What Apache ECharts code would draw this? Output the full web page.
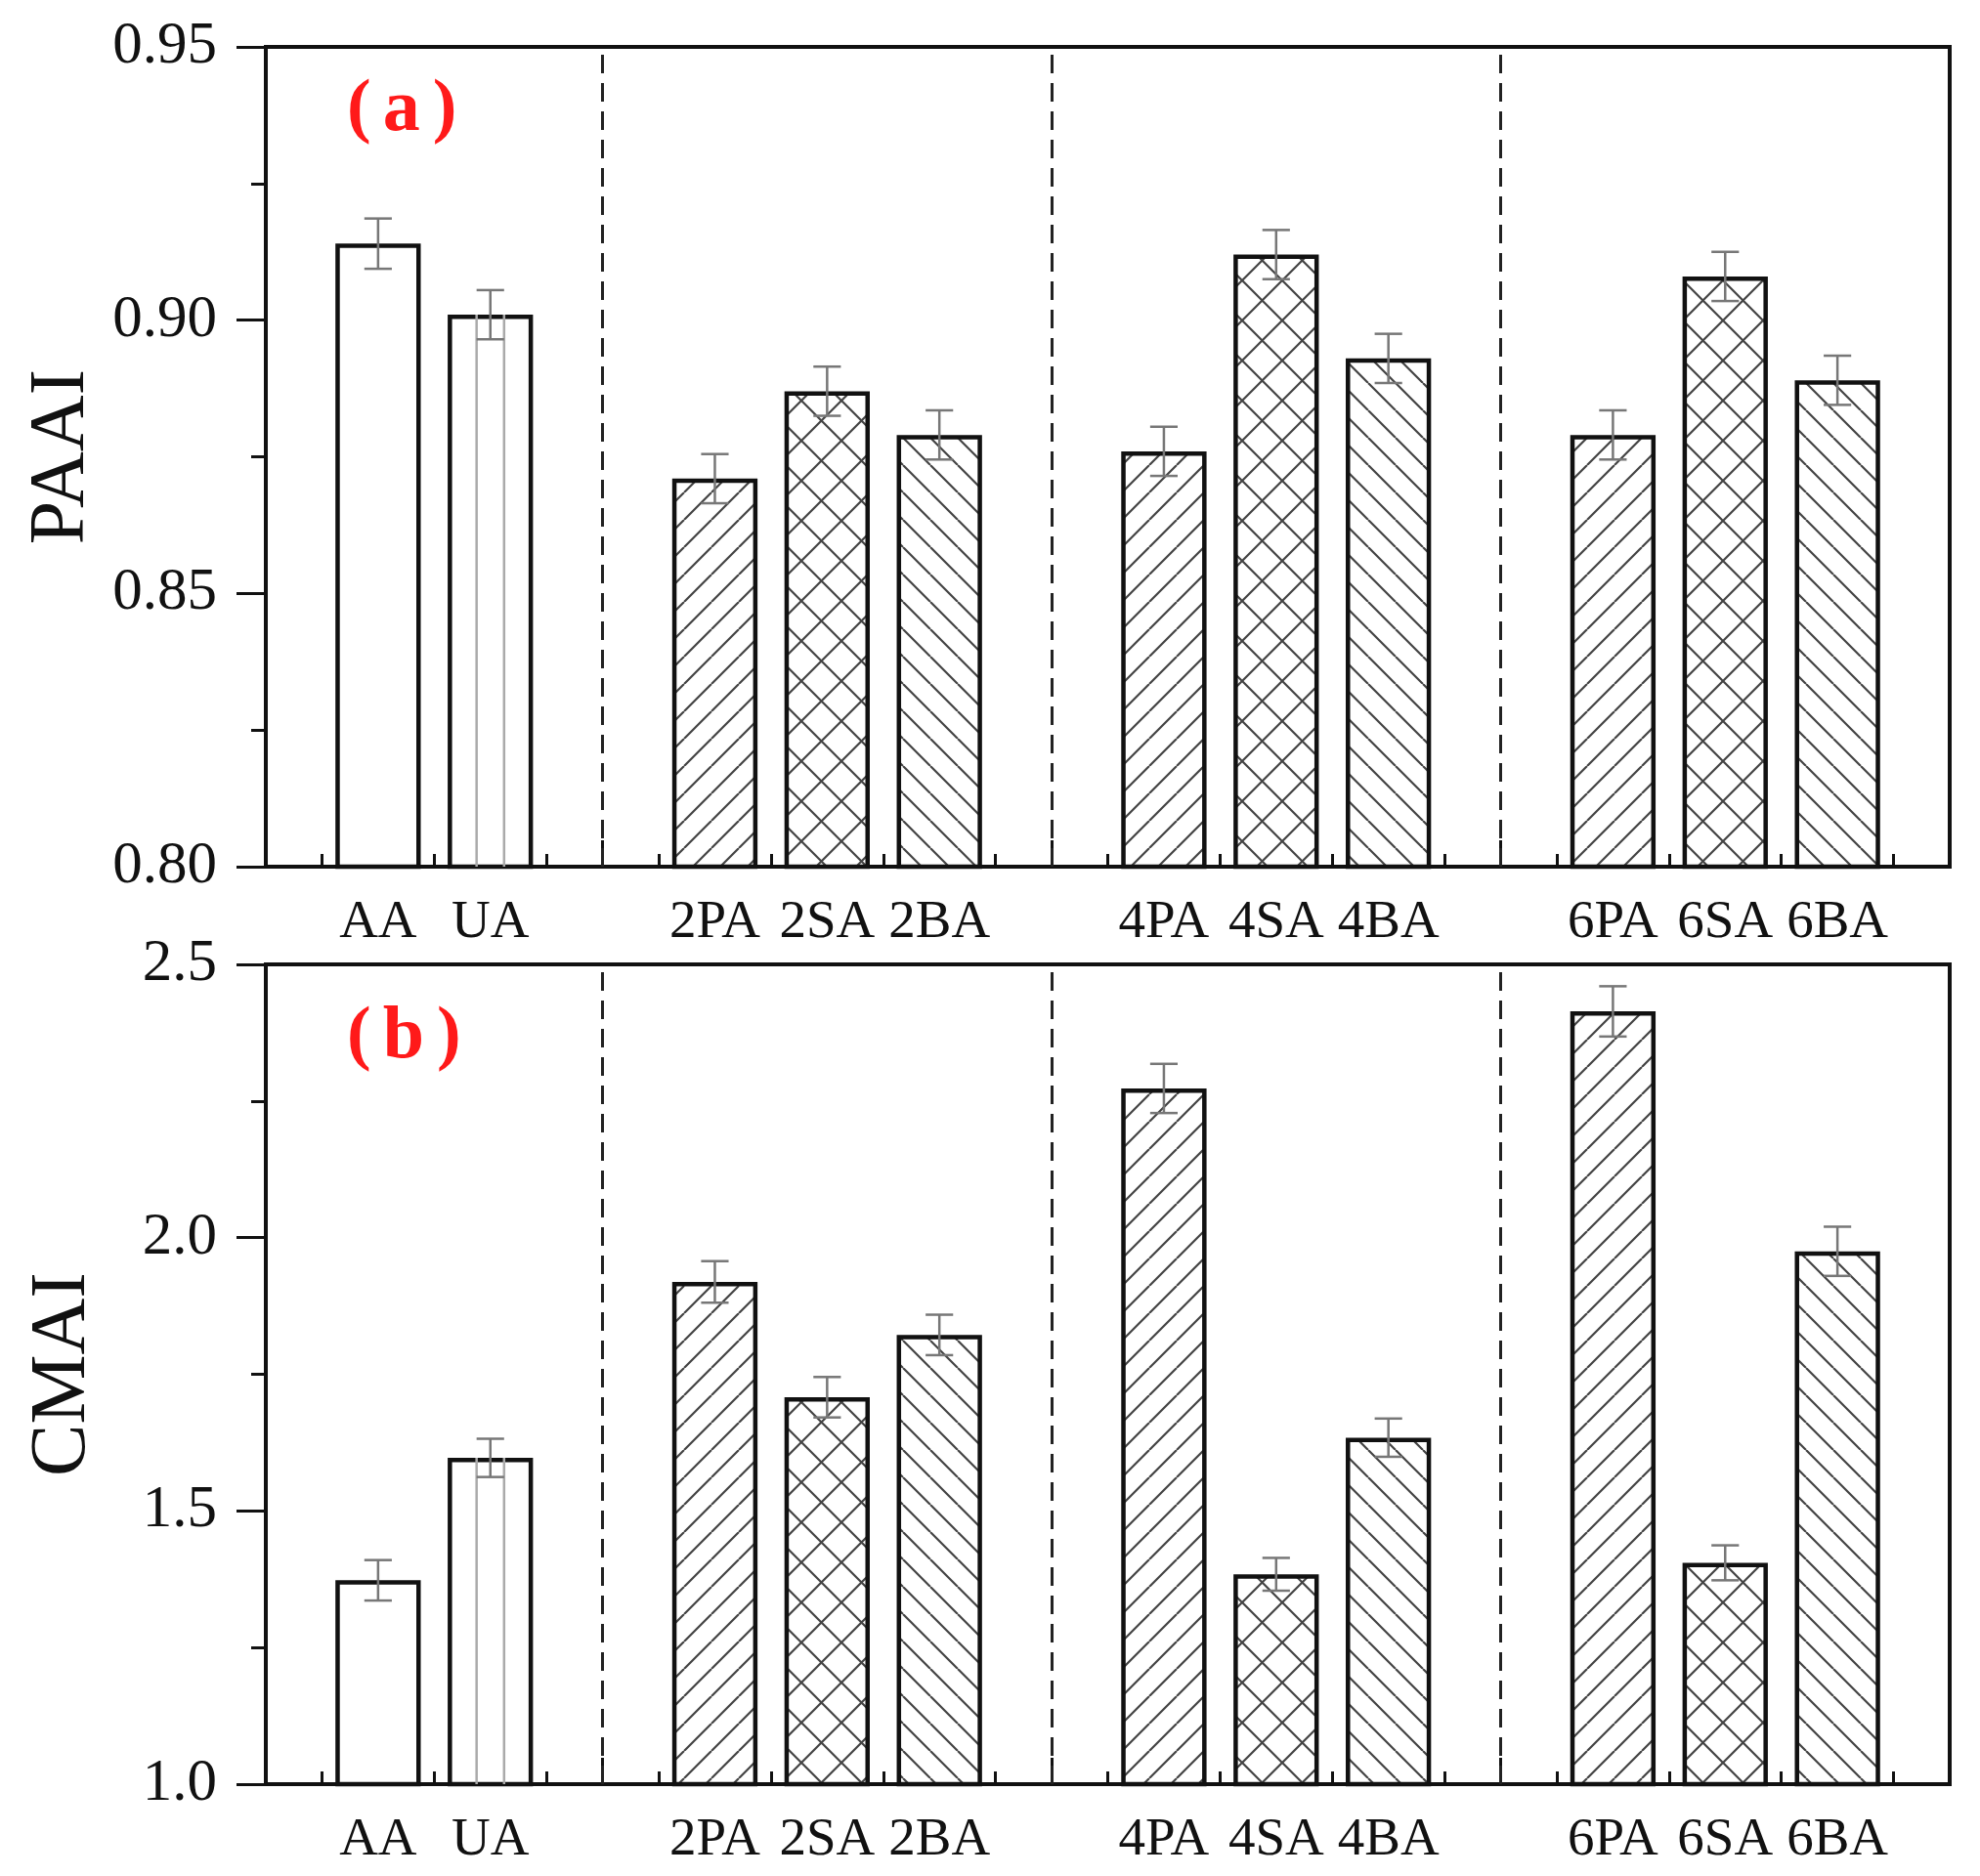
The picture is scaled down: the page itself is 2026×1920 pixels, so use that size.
<!DOCTYPE html>
<html>
<head>
<meta charset="utf-8">
<script src="https://cdn.jsdelivr.net/npm/echarts@6/dist/echarts.min.js"></script>
<style>
  html, body { margin: 0; padding: 0; background: #fff; }
  #chart { width: 2026px; height: 1920px; }
</style>
</head>
<body>
<div id="chart"></div>
<script>
// 各处理的类别与横轴位置（3、7、11 为分隔虚线处）
const categories = ['AA', 'UA', '2PA', '2SA', '2BA', '4PA', '4SA', '4BA', '6PA', '6SA', '6BA'];
const positions = [1, 2, 4, 5, 6, 8, 9, 10, 12, 13, 14];
const dividers = [3, 7, 11];
const fills = ['plain', 'vline', 'slash', 'cross', 'back', 'slash', 'cross', 'back', 'slash', 'cross', 'back'];

// (a) PAAI
const paai = [0.914, 0.901, 0.871, 0.887, 0.879, 0.876, 0.912, 0.893, 0.879, 0.908, 0.889];
const paaiErr = [0.0046, 0.0045, 0.0045, 0.0045, 0.0045, 0.0045, 0.0045, 0.0045, 0.0045, 0.0045, 0.0045];
// (b) CMAI
const cmai = [1.373, 1.597, 1.919, 1.708, 1.822, 2.273, 1.384, 1.634, 2.414, 1.405, 1.975];
const cmaiErr = [0.037, 0.035, 0.038, 0.037, 0.037, 0.045, 0.030, 0.035, 0.046, 0.032, 0.045];

const paaiTicks = { min: 0.80, max: 0.95, interval: 0.05, digits: 2 };
const cmaiTicks = { min: 1.0, max: 2.5, interval: 0.5, digits: 1 };

const serif = '"Liberation Serif", "Times New Roman", serif';

// 斜线/交叉线填充
function makePattern(kind) {
    if (kind === 'plain' || kind === 'vline') return '#fff';
    const p = kind === 'cross' ? 41 : 28;
    const c = document.createElement('canvas');
    c.width = p; c.height = p;
    const ctx = c.getContext('2d');
    ctx.fillStyle = '#fff';
    ctx.fillRect(0, 0, p, p);
    ctx.strokeStyle = '#444';
    ctx.lineWidth = 2.2;
    ctx.beginPath();
    for (let k = -1; k <= 1; k++) {
        if (kind === 'slash' || kind === 'cross') {
            ctx.moveTo(k * p, p);
            ctx.lineTo(k * p + p, 0);
        }
        if (kind === 'back' || kind === 'cross') {
            ctx.moveTo(k * p, 0);
            ctx.lineTo(k * p + p, p);
        }
    }
    ctx.stroke();
    return { image: c, repeat: 'repeat' };
}

function labelFor(v) {
    const i = positions.indexOf(Math.round(v));
    return i >= 0 && Math.abs(v - positions[i]) < 1e-6 ? categories[i] : '';
}

function errorRenderer(yMin) {
    return function (params, api) {
        const x = api.value(0), v = api.value(1), e = api.value(2);
        const hi = api.coord([x, v + e]);
        const lo = api.coord([x, v - e]);
        const half = api.size([0.245, 0])[0] / 2;
        const style = { stroke: '#777', lineWidth: 2.5 };
        const children = [];
        if (fills[params.dataIndex] === 'vline') {
            const top = api.coord([x, v]);
            const base = api.coord([x, yMin]);
            [-half, half].forEach(d => children.push({
                type: 'line',
                shape: { x1: top[0] + d, y1: top[1], x2: top[0] + d, y2: base[1] },
                style: { stroke: '#aaa', lineWidth: 2.5 }
            }));
        }
        children.push({ type: 'line', shape: { x1: hi[0], y1: hi[1], x2: lo[0], y2: lo[1] }, style });
        children.push({ type: 'line', shape: { x1: hi[0] - half, y1: hi[1], x2: hi[0] + half, y2: hi[1] }, style });
        children.push({ type: 'line', shape: { x1: lo[0] - half, y1: lo[1], x2: lo[0] + half, y2: lo[1] }, style });
        return { type: 'group', children };
    };
}

function xAxisFor(gridIndex) {
    return {
        type: 'value', gridIndex, min: 0, max: 15, interval: 1,
        axisLine: { show: true, lineStyle: { color: '#111', width: 4 } },
        axisTick: { show: true, inside: true, length: 27, lineStyle: { color: '#111', width: 3 } },
        minorTick: { show: true, splitNumber: 2, length: 13, lineStyle: { color: '#111', width: 3 } },
        splitLine: { show: false },
        axisLabel: {
            margin: 30, color: '#111', fontSize: 55, fontFamily: serif,
            formatter: labelFor, showMinLabel: true, showMaxLabel: true
        }
    };
}

function yAxisFor(gridIndex, ticks, name) {
    return {
        type: 'value', gridIndex, min: ticks.min, max: ticks.max, interval: ticks.interval,
        name, nameLocation: 'middle', nameGap: 167, nameRotate: 90,
        nameTextStyle: { color: '#111', fontSize: 80, fontFamily: serif },
        axisLine: { show: true, lineStyle: { color: '#111', width: 4 } },
        axisTick: { show: true, inside: false, length: 30, lineStyle: { color: '#111', width: 3 } },
        minorTick: { show: true, splitNumber: 2, length: 15, lineStyle: { color: '#111', width: 3 } },
        splitLine: { show: false },
        axisLabel: {
            margin: 50, color: '#111', fontSize: 61, fontFamily: serif,
            formatter: v => v.toFixed(ticks.digits)
        }
    };
}

function barSeries(idx, values) {
    return {
        type: 'bar', xAxisIndex: idx, yAxisIndex: idx,
        barWidth: '76%', clip: true,
        data: positions.map((p, i) => ({
            value: [p, values[i]],
            itemStyle: { color: makePattern(fills[i]) }
        })),
        itemStyle: { borderColor: '#111', borderWidth: 4.5 },
        markLine: {
            silent: true, symbol: 'none', label: { show: false },
            lineStyle: { color: '#222', type: [19, 10], width: 3 },
            data: dividers.map(d => ({ xAxis: d }))
        }
    };
}

function errSeries(idx, values, errs, yMin) {
    return {
        type: 'custom', xAxisIndex: idx, yAxisIndex: idx, z: 5,
        renderItem: errorRenderer(yMin),
        data: positions.map((p, i) => [p, values[i], errs[i]])
    };
}

function panelTag(letter, top) {
    return {
        text: '{p|(}{t|' + letter + '}{p|)}', left: 350, top,
        textStyle: {
            rich: {
                p: { color: '#ff1a1a', fontSize: 74, lineHeight: 84, fontFamily: serif, verticalAlign: 'middle' },
                t: { color: '#ff1a1a', fontSize: 76, lineHeight: 84, fontWeight: 'bold', fontFamily: serif, padding: [0, 13, 0, 12], verticalAlign: 'middle' }
            }
        }
    };
}

const chart = echarts.init(document.getElementById('chart'));
chart.setOption({
    animation: false,
    backgroundColor: '#fff',
    title: [panelTag('a', 66), panelTag('b', 1015)],
    grid: [
        { left: 272, right: 31, top: 48, height: 839, show: true, borderColor: '#111', borderWidth: 4 },
        { left: 272, right: 31, top: 987, height: 839, show: true, borderColor: '#111', borderWidth: 4 }
    ],
    xAxis: [xAxisFor(0), xAxisFor(1)],
    yAxis: [yAxisFor(0, paaiTicks, 'PAAI'), yAxisFor(1, cmaiTicks, 'CMAI')],
    series: [
        barSeries(0, paai),
        errSeries(0, paai, paaiErr, paaiTicks.min),
        barSeries(1, cmai),
        errSeries(1, cmai, cmaiErr, cmaiTicks.min)
    ]
});
</script>
</body>
</html>
